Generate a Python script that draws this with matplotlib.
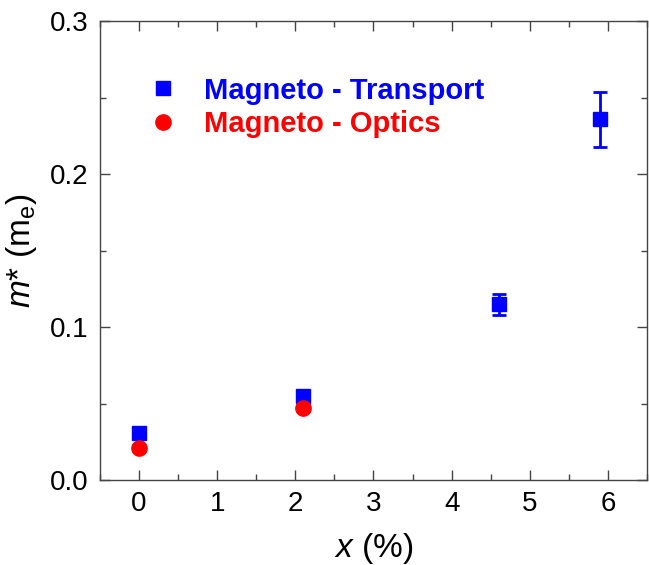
import numpy as np
import matplotlib
matplotlib.use('Agg')
import matplotlib.pyplot as plt
from matplotlib.ticker import MultipleLocator

plt.rcParams['font.family'] = ['Liberation Sans', 'DejaVu Sans']
plt.rcParams['mathtext.fontset'] = 'custom'
plt.rcParams['mathtext.rm'] = 'Liberation Sans'
plt.rcParams['mathtext.it'] = 'Liberation Sans:italic'

# Datos
x_transporte = [0.0, 2.1, 4.6, 5.9]
m_transporte = [0.031, 0.055, 0.115, 0.236]
err_transporte = [0.002, 0.003, 0.007, 0.018]

x_optica = [0.0, 2.1]
m_optica = [0.021, 0.047]
err_optica = [0.002, 0.002]

fig = plt.figure(figsize=(6.49, 5.65), dpi=100)
ax = fig.add_axes([0.154, 0.150, 0.843, 0.812])

ax.errorbar(x_transporte, m_transporte, yerr=err_transporte, fmt='s', color='#0000ff',
            markersize=10, capsize=5, elinewidth=2, capthick=2,
            label='Magneto - Transport', zorder=3)
ax.errorbar(x_optica, m_optica, yerr=err_optica, fmt='o', color='#ff0000',
            markersize=11, capsize=5, elinewidth=2, capthick=2,
            label='Magneto - Optics', zorder=4)

ax.set_xlim(-0.5, 6.5)
ax.set_ylim(0, 0.3)
ax.xaxis.set_major_locator(MultipleLocator(1))
ax.xaxis.set_minor_locator(MultipleLocator(0.5))
ax.yaxis.set_major_locator(MultipleLocator(0.1))
ax.yaxis.set_minor_locator(MultipleLocator(0.05))
ax.tick_params(which='both', direction='in', top=True, right=True,
               labelsize=20, width=1, color='#444444')
ax.tick_params(which='major', length=7, pad=8)
ax.tick_params(which='minor', length=4)
for s in ax.spines.values():
    s.set_color('#444444')
    s.set_linewidth(1)

ax.set_xlabel(r'$x$ (%)', fontsize=24, labelpad=10)
ax.set_ylabel(r'$m$* (m$_\mathrm{e}$)', fontsize=24, labelpad=8)

handles, labels = ax.get_legend_handles_labels()
handles = [h[0] for h in handles]
leg = ax.legend(handles, labels, loc='upper left', bbox_to_anchor=(0.088, 0.88),
                frameon=False, prop={'weight': 'bold', 'size': 21}, borderpad=0,
                handletextpad=0.9, handlelength=1.0, labelspacing=0.2,
                borderaxespad=0)
for txt, c in zip(leg.get_texts(), ['#0000ff', '#ff0000']):
    txt.set_color(c)

fig.savefig('out.png', dpi=100)
